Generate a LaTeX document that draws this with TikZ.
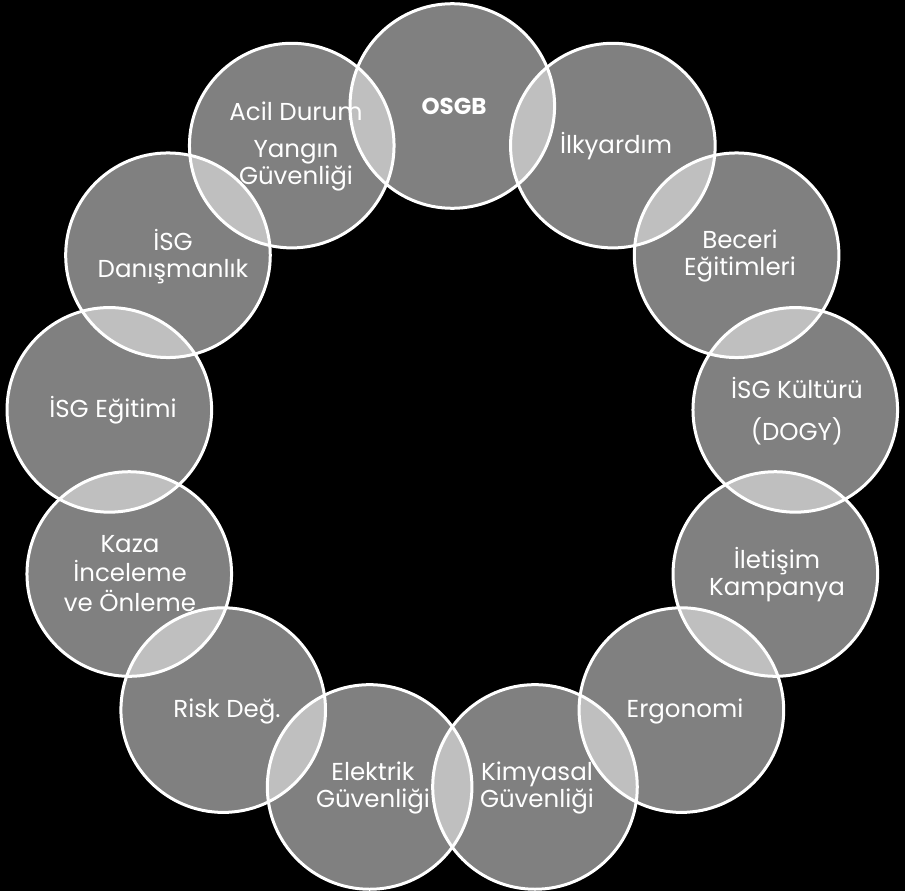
\documentclass[tikz,border=0pt]{standalone}
\usepackage{fontspec}
\setmainfont{Poppins}
\begin{document}
\begin{tikzpicture}[x=1pt,y=-1pt,
  bubble/.style={circle, minimum size=204.6pt, inner sep=0pt, fill=white, fill opacity=0.5, draw=white, draw opacity=1, line width=3pt},
  lbl/.style={anchor=base, text=white, inner sep=0pt, font=\fontsize{24.5}{27.5}\selectfont}]
\fill[black] (0,0) rectangle (905,891);
\useasboundingbox (0,0) rectangle (905,891);
\foreach \k in {0,...,12}{
  \pgfmathsetmacro\ang{90-\k*360/13}
  \node[bubble] (c\k) at ({452.3+345.5*cos(\ang)},{451.5-345.5*sin(\ang)}) {};
}
\node[lbl, font=\fontsize{23}{27}\selectfont\bfseries] (t0) at (454,114.5) {OSGB};
\node[lbl] (t1) at (616,153) {İlkyardım};
\node[lbl] (t2) at (740,248) {\begin{tabular}[t]{@{}c@{}}Beceri\\Eğitimleri\end{tabular}};
\node[lbl] (t3) at (797,398) {\begin{tabular}[t]{@{}c@{}}İSG Kültürü\\[11pt](DOGY)\end{tabular}};
\node[lbl] (t4) at (777,568) {\begin{tabular}[t]{@{}c@{}}İletişim\\Kampanya\end{tabular}};
\node[lbl] (t5) at (685,717) {Ergonomi};
\node[lbl] (t6) at (537,780) {\begin{tabular}[t]{@{}c@{}}Kimyasal\\Güvenliği\end{tabular}};
\node[lbl] (t7) at (373,780) {\begin{tabular}[t]{@{}c@{}}Elektrik\\Güvenliği\end{tabular}};
\node[lbl] (t8) at (227,717) {Risk Değ.};
\node[lbl] (t9) at (130,552) {\begin{tabular}[t]{@{}c@{}}Kaza\\İnceleme\\ve Önleme\end{tabular}};
\node[lbl] (t10) at (113,417) {İSG Eğitimi};
\node[lbl] (t11) at (173,250) {\begin{tabular}[t]{@{}c@{}}İSG\\Danışmanlık\end{tabular}};
\node[lbl] (t12) at (296,120) {\begin{tabular}[t]{@{}c@{}}Acil Durum\\[10pt]Yangın\\Güvenliği\end{tabular}};
\end{tikzpicture}
\end{document}
